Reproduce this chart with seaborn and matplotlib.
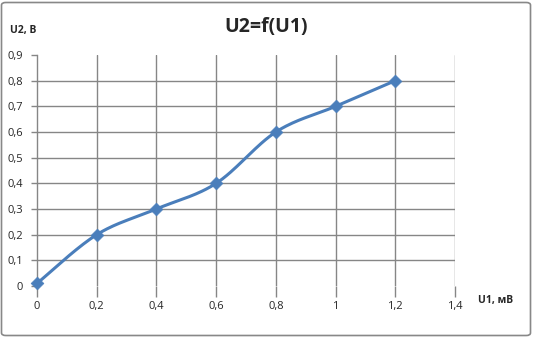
import numpy as np
import pandas as pd
import matplotlib
matplotlib.use("Agg")
import matplotlib.pyplot as plt
import seaborn as sns
from matplotlib.patches import FancyBboxPatch

u1 = [0, 0.2, 0.4, 0.6, 0.8, 1.0, 1.2]
u2 = [0.01, 0.2, 0.3, 0.4, 0.6, 0.7, 0.8]
x_ticks = [0, 0.2, 0.4, 0.6, 0.8, 1.0, 1.2, 1.4]
x_labels = ["0", "0,2", "0,4", "0,6", "0,8", "1", "1,2", "1,4"]
y_ticks = [0, 0.1, 0.2, 0.3, 0.4, 0.5, 0.6, 0.7, 0.8, 0.9]
y_labels = ["0", "0,1", "0,2", "0,3", "0,4", "0,5", "0,6", "0,7", "0,8", "0,9"]

sns.set_style("white")
plt.rcParams['font.family'] = ['Open Sans', 'DejaVu Sans']

LINE = "#4A7EBB"
GRID = "#868686"


def smooth(xs, ys, n=30):
    # Excel-style smoothed line (Catmull-Rom / cardinal Bezier)
    xs = np.asarray(xs, float); ys = np.asarray(ys, float)
    px = np.concatenate([[xs[0]], xs, [xs[-1]]])
    py = np.concatenate([[ys[0]], ys, [ys[-1]]])
    ox, oy = [], []
    t = np.linspace(0, 1, n)
    for i in range(1, len(px) - 2):
        p0 = np.array([px[i - 1], py[i - 1]]); p1 = np.array([px[i], py[i]])
        p2 = np.array([px[i + 1], py[i + 1]]); p3 = np.array([px[i + 2], py[i + 2]])
        c1 = p1 + (p2 - p0) / 6.0
        c2 = p2 - (p3 - p1) / 6.0
        b = ((1 - t) ** 3)[:, None] * p1 + (3 * (1 - t) ** 2 * t)[:, None] * c1 \
            + (3 * (1 - t) * t ** 2)[:, None] * c2 + (t ** 3)[:, None] * p2
        ox.extend(b[:, 0]); oy.extend(b[:, 1])
    return np.array(ox), np.array(oy)


fig = plt.figure(figsize=(5.33, 3.37), dpi=100)
ax = fig.add_axes([37 / 533, 1 - 286 / 337, (455 - 37) / 533, (286 - 55) / 337])

sx, sy = smooth(u1, u2)
curve = pd.DataFrame({"U1": sx, "U2": sy})
pts = pd.DataFrame({"U1": u1, "U2": u2})

ax.set_xlim(0, 1.4)
ax.set_ylim(0, 0.9)

# grid lines
for xv in x_ticks[1:]:
    ax.axvline(xv, color=GRID, lw=1.0, zorder=0)
for yv in y_ticks[1:-1]:
    ax.axhline(yv, color=GRID, lw=1.0, zorder=0)

sns.lineplot(data=curve, x="U1", y="U2", ax=ax, color=LINE, lw=2.2, sort=False,
             estimator=None, zorder=3)
sns.scatterplot(data=pts, x="U1", y="U2", ax=ax, color=LINE, marker="D", s=42,
                edgecolor=LINE, linewidth=0.5, zorder=4, clip_on=False)

for side in ["top", "right", "bottom"]:
    ax.spines[side].set_visible(False)
ax.spines["left"].set_color(GRID)
ax.spines["left"].set_linewidth(1.0)

ax.set_xticks(x_ticks)
ax.set_xticklabels(x_labels)
ax.set_yticks(y_ticks)
ax.set_yticklabels(y_labels)
ax.tick_params(axis="x", direction="out", length=8, width=1.0, color=GRID,
               labelsize=8, pad=3, bottom=True)
ax.tick_params(axis="y", direction="out", length=4, width=1.0, color=GRID,
               labelsize=8, pad=6, left=True)
ax.set_xlabel("")
ax.set_ylabel("")

fig.text(0.5, 1 - 27 / 337, "U2=f(U1)", ha="center", va="center",
         fontsize=14, fontweight="bold")
fig.text(10 / 533, 1 - 30 / 337, "U2, В", ha="left", va="center",
         fontsize=7.5, fontweight="bold")
fig.text(478 / 533, 1 - 301 / 337, "U1, мВ", ha="left", va="center",
         fontsize=7.5, fontweight="bold")

border = FancyBboxPatch((1.5 / 533, 1.5 / 337), 1 - 4 / 533, 1 - 4 / 337,
                        boxstyle="round,pad=0,rounding_size=0.008",
                        transform=fig.transFigure, fill=False,
                        edgecolor="#888888", lw=1.2)
fig.patches.append(border)

fig.savefig("out.png", dpi=100)
